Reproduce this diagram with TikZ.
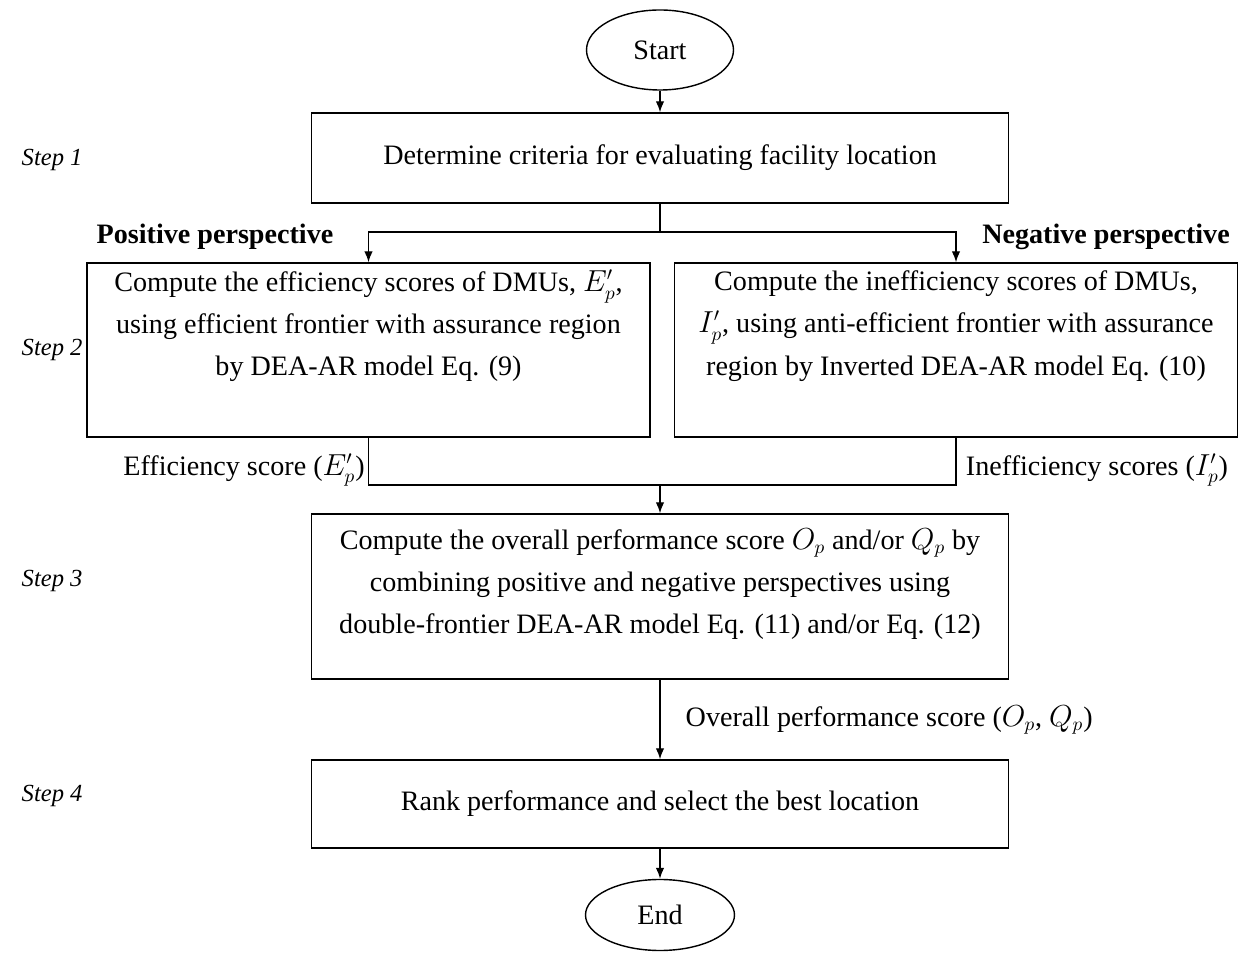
\documentclass[tikz,border=0pt]{standalone}
\usepackage{fontspec}
\setmainfont{Liberation Serif}
\usetikzlibrary{shapes,arrows,arrows.meta,positioning}

\begin{document}
\begin{tikzpicture}
[line width=0.8pt, >={Latex[length=2.2mm,width=1.7mm]}, font=\fontsize{16}{24}\selectfont,
  mybox/.style={rectangle, draw=black, minimum height=1.76cm},
  myoval/.style={ellipse, draw=black, inner sep=0pt, minimum width=2.94cm, minimum height=1.5cm},
  mytext/.style={align=center, inner sep=0pt},
  mystep/.style={anchor=west, inner sep=0pt, font=\fontsize{14}{20}\selectfont\itshape},
  myside/.style={inner sep=0pt, font=\fontsize{16}{24}\selectfont\bfseries}
]
  \useasboundingbox (0,0) rectangle (24.84,19.04);

  \node[myoval, minimum height=1.6cm] (start) at (13.2,18.04) {Start};
  \node[myoval, minimum width=2.98cm, minimum height=1.42cm] (stop) at (13.2,0.74) {End};

  \node[mybox, minimum width=13.94cm, minimum height=1.8cm] (criteria) at (13.2,15.88)
    {Determine criteria for evaluating facility location};
  \node[mybox, minimum width=11.26cm, minimum height=3.48cm] (positive) at (7.37,12.04) {};
  \node[mybox, minimum width=11.26cm, minimum height=3.48cm] (negative) at (19.12,12.04) {};
  \node[mybox, minimum width=13.94cm, minimum height=3.3cm] (overall) at (13.2,7.11) {};
  \node[mybox, minimum width=13.94cm] (rank) at (13.2,2.96)
    {Rank performance and select the best location};

  \node[mytext] (positivetext) at (7.37,12.52)
    {Compute the efficiency scores of DMUs, $E'_p$,\\
     using efficient frontier with assurance region\\
     by DEA-AR model Eq. (9)};
  \node[mytext] (negativetext) at (19.12,12.52)
    {Compute the inefficiency scores of DMUs,\\
     $I'_p$, using anti-efficient frontier with assurance\\
     region by Inverted DEA-AR model Eq. (10)};
  \node[mytext] (overalltext) at (13.2,7.36)
    {Compute the overall performance score $O_p$ and/or $Q_p$ by\\
     combining positive and negative perspectives using\\
     double-frontier DEA-AR model Eq. (11) and/or Eq. (12)};

  % step labels
  \node[mystep] (step1) at (0.42,15.84) {Step 1};
  \node[mystep] (step2) at (0.42,12.04) {Step 2};
  \node[mystep] (step3) at (0.42,7.42) {Step 3};
  \node[mystep] (step4) at (0.42,3.12) {Step 4};

  \node[myside] (poslabel) at (4.3,14.3) {Positive perspective};
  \node[myside] (neglabel) at (22.12,14.3) {Negative perspective};
  \node[inner sep=0pt] (efflabel) at (4.88,9.64) {Efficiency score ($E'_p$)};
  \node[inner sep=0pt] (inefflabel) at (21.94,9.64) {Inefficiency scores ($I'_p$)};
  \node[inner sep=0pt, anchor=west] (overalllabel) at (13.7,4.64) {Overall performance score ($O_p$, $Q_p$)};

  \coordinate (split) at (13.2,14.4);
  \coordinate (merge) at (13.2,9.34);

  \draw[->] (start) -- (criteria);
  \draw (criteria) -- (split);
  \draw[->] (split) -| (positive.north);
  \draw[->] (split) -| (negative.north);
  \draw (positive.south) |- (merge) -| (negative.south);
  \draw[->] (merge) -- (overall);
  \draw[->] (overall) -- (rank);
  \draw[->] (rank) -- (stop);
\end{tikzpicture}
\end{document}
